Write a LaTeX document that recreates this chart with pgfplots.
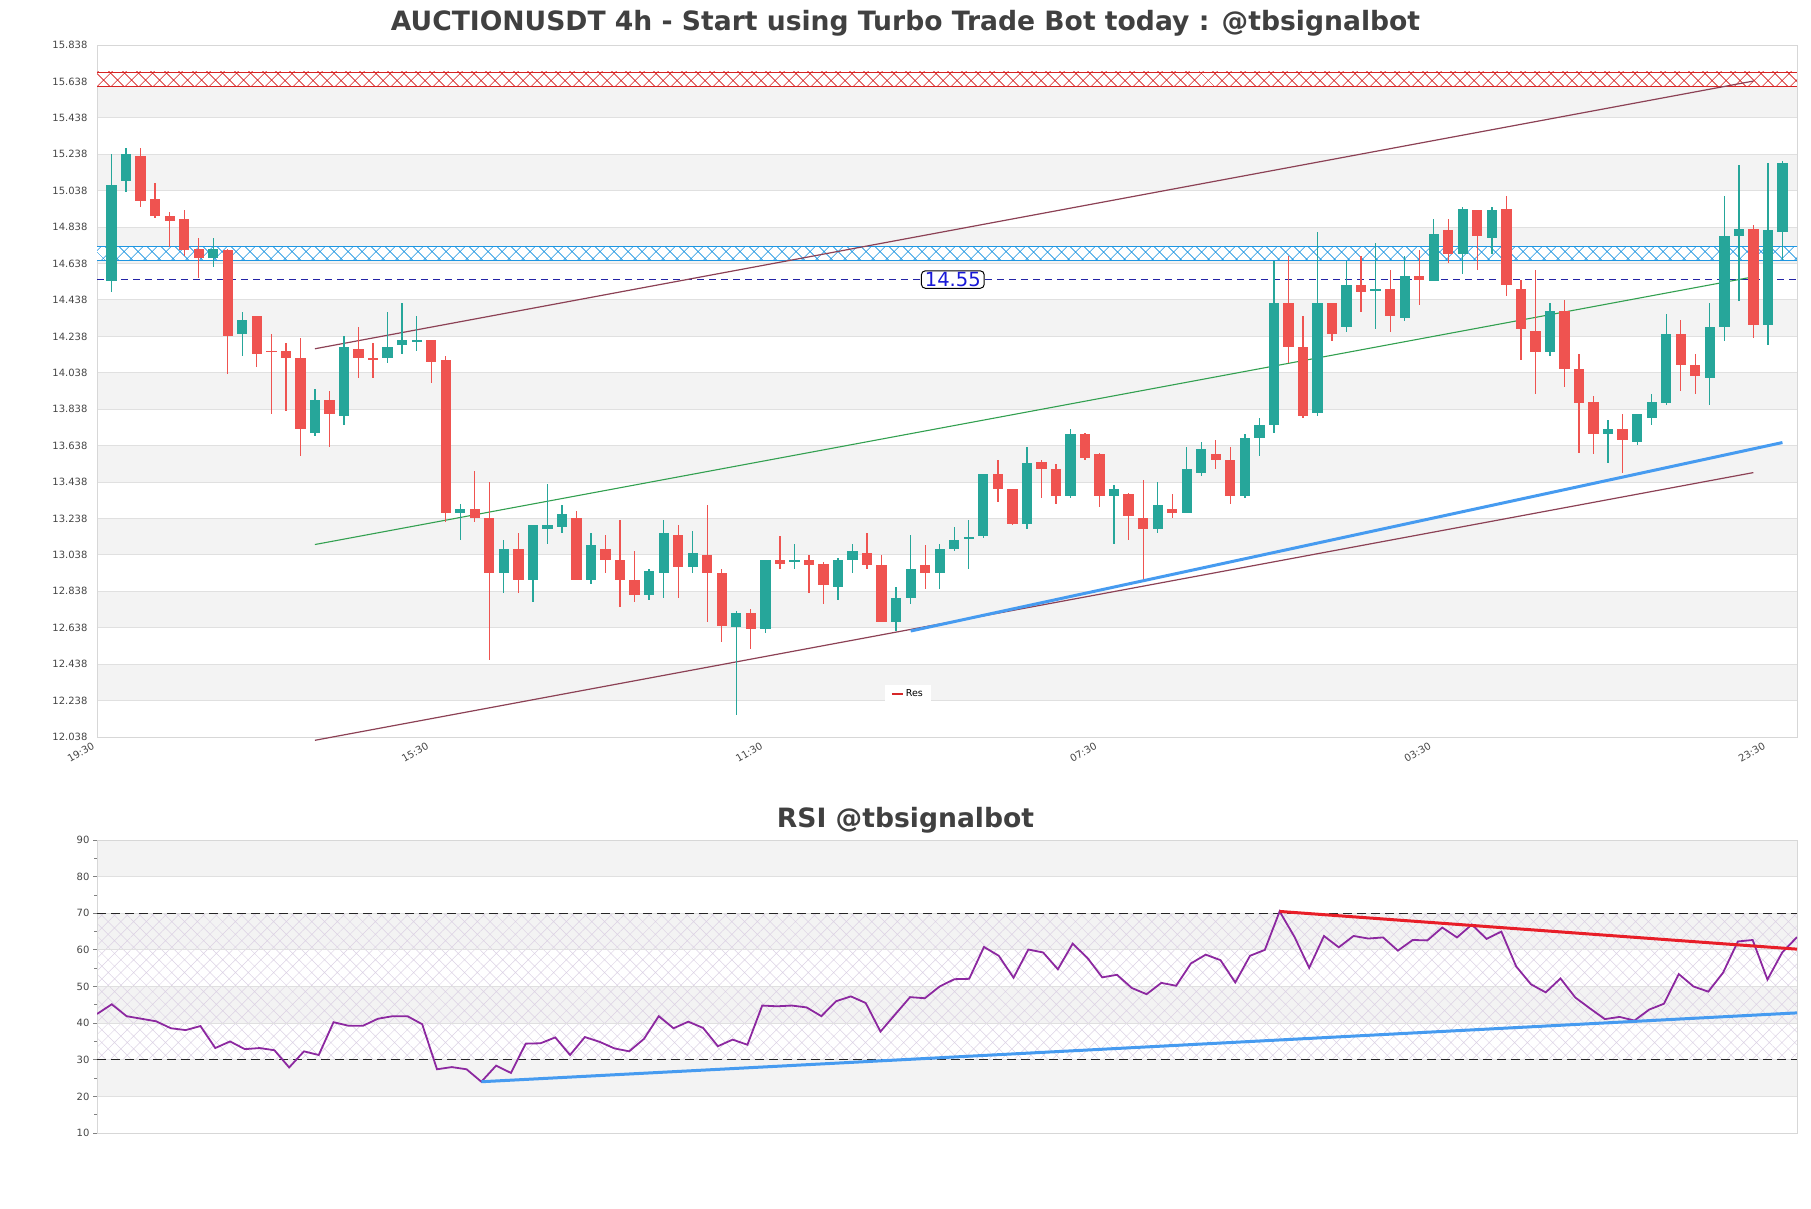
\documentclass[border=0pt]{standalone}
\usepackage{fontspec}
\setmainfont{DejaVu Sans}
\usepackage{pgfplots}
\usepackage{pgfplotstable}
\pgfplotsset{compat=1.18}
\usetikzlibrary{patterns.meta}

\definecolor{upc}{RGB}{38,166,154}
\definecolor{dnc}{RGB}{239,83,80}
\definecolor{bandgray}{RGB}{243,243,243}
\definecolor{gridgray}{RGB}{224,224,224}
\definecolor{axgray}{RGB}{215,215,215}
\definecolor{ticktext}{RGB}{70,70,70}
\definecolor{titletext}{RGB}{64,64,64}
\definecolor{zonered}{RGB}{215,35,35}
\definecolor{zoneblue}{RGB}{30,150,225}
\definecolor{chanmaroon}{RGB}{140,65,85}
\definecolor{midgreen}{RGB}{50,160,80}
\definecolor{supblue}{RGB}{70,155,240}
\definecolor{navyline}{RGB}{35,35,165}
\definecolor{labelblue}{RGB}{25,25,215}
\definecolor{rsipurple}{RGB}{140,40,160}
\definecolor{rsired}{RGB}{232,30,40}
\definecolor{hatchviolet}{RGB}{220,210,228}
\definecolor{legred}{RGB}{214,39,40}

% candles: index, open, high, low, close
\pgfplotstableread{
x o h l c
0 14.54 15.24 14.48 15.07
1 15.09 15.27 15.03 15.24
7 14.67 14.78 14.62 14.72
9 14.25 14.37 14.13 14.33
14 13.71 13.95 13.69 13.89
16 13.80 14.24 13.75 14.18
19 14.12 14.37 14.09 14.18
20 14.19 14.42 14.14 14.22
21 14.21 14.35 14.16 14.22
24 13.27 13.32 13.12 13.29
27 12.94 13.12 12.83 13.07
29 12.90 13.20 12.78 13.20
30 13.18 13.43 13.10 13.20
31 13.19 13.31 13.16 13.26
33 12.90 13.16 12.88 13.09
37 12.82 12.96 12.79 12.95
38 12.94 13.23 12.80 13.16
40 12.97 13.17 12.94 13.05
43 12.64 12.73 12.16 12.72
45 12.63 13.01 12.61 13.01
47 13.00 13.10 12.96 13.01
50 12.86 13.02 12.79 13.01
51 13.01 13.10 12.94 13.06
54 12.67 12.86 12.62 12.80
55 12.80 13.15 12.77 12.96
57 12.94 13.10 12.85 13.07
58 13.07 13.19 13.06 13.12
59 13.125 13.23 12.96 13.135
60 13.14 13.48 13.13 13.48
63 13.21 13.63 13.18 13.54
66 13.36 13.73 13.35 13.70
69 13.36 13.42 13.10 13.40
72 13.18 13.44 13.16 13.31
74 13.27 13.63 13.27 13.51
75 13.49 13.66 13.47 13.62
78 13.36 13.70 13.35 13.68
79 13.68 13.79 13.58 13.75
80 13.75 14.65 13.71 14.42
83 13.82 14.81 13.80 14.42
85 14.29 14.65 14.26 14.52
87 14.49 14.75 14.28 14.50
89 14.34 14.68 14.32 14.57
91 14.54 14.88 14.54 14.80
93 14.69 14.95 14.58 14.94
95 14.78 14.95 14.69 14.93
99 14.15 14.42 14.13 14.38
103 13.70 13.78 13.54 13.73
105 13.66 13.81 13.64 13.81
106 13.79 13.92 13.75 13.88
107 13.87 14.36 13.86 14.25
110 14.01 14.42 13.86 14.29
111 14.29 15.01 14.21 14.79
112 14.79 15.18 14.43 14.83
114 14.30 15.19 14.19 14.82
115 14.81 15.20 14.66 15.19
}\upcandles

\pgfplotstableread{
x o h l c
2 15.23 15.27 14.95 14.98
3 14.99 15.08 14.89 14.90
4 14.90 14.92 14.73 14.87
5 14.88 14.93 14.68 14.71
6 14.72 14.78 14.56 14.67
8 14.71 14.72 14.03 14.24
10 14.35 14.35 14.07 14.14
11 14.16 14.25 13.81 14.15
12 14.16 14.20 13.83 14.12
13 14.12 14.23 13.58 13.73
15 13.89 13.94 13.63 13.81
17 14.17 14.29 14.01 14.12
18 14.12 14.20 14.01 14.11
22 14.22 14.22 13.98 14.10
23 14.11 14.13 13.22 13.27
25 13.29 13.50 13.22 13.24
26 13.24 13.44 12.46 12.94
28 13.07 13.16 12.83 12.90
32 13.24 13.28 12.90 12.90
34 13.07 13.15 12.94 13.01
35 13.01 13.23 12.75 12.90
36 12.90 13.06 12.78 12.82
39 13.15 13.20 12.80 12.97
41 13.04 13.31 12.67 12.94
42 12.94 12.96 12.56 12.65
44 12.72 12.74 12.52 12.63
46 13.01 13.14 12.96 12.99
48 13.01 13.04 12.83 12.98
49 12.99 13.00 12.77 12.87
52 13.05 13.16 12.96 12.98
53 12.98 13.04 12.67 12.67
56 12.98 13.09 12.85 12.94
61 13.48 13.56 13.33 13.40
62 13.40 13.40 13.20 13.21
64 13.55 13.56 13.35 13.51
65 13.51 13.54 13.32 13.36
67 13.70 13.71 13.56 13.57
68 13.59 13.60 13.30 13.36
70 13.37 13.38 13.12 13.25
71 13.24 13.45 12.90 13.18
73 13.29 13.37 13.24 13.27
76 13.59 13.67 13.51 13.56
77 13.56 13.63 13.32 13.36
81 14.42 14.68 14.09 14.18
82 14.18 14.35 13.79 13.80
84 14.42 14.42 14.21 14.25
86 14.52 14.68 14.37 14.48
88 14.50 14.60 14.26 14.35
90 14.57 14.71 14.41 14.55
92 14.82 14.88 14.64 14.69
94 14.93 14.93 14.60 14.79
96 14.94 15.01 14.46 14.52
97 14.50 14.55 14.11 14.28
98 14.27 14.60 13.92 14.15
100 14.38 14.44 13.96 14.06
101 14.06 14.14 13.60 13.87
102 13.88 13.91 13.59 13.70
104 13.73 13.81 13.49 13.67
108 14.25 14.33 13.94 14.08
109 14.08 14.14 13.92 14.02
113 14.83 14.85 14.23 14.30
}\dncandles

\pgfplotstableread{
x v
0 42.5
1 45.15
2 41.9
3 41.2
4 40.5
5 38.6
6 38.1
7 39.2
8 33.2
9 35.0
10 32.9
11 33.2
12 32.6
13 27.9
14 32.3
15 31.3
16 40.25
17 39.3
18 39.3
19 41.2
20 41.9
21 41.9
22 39.7
23 27.4
24 28.0
25 27.4
26 24.0
27 28.4
28 26.4
29 34.4
30 34.5
31 36.1
32 31.3
33 36.2
34 34.9
35 33.1
36 32.3
37 35.7
38 41.9
39 38.6
40 40.4
41 38.7
42 33.7
43 35.5
44 34.1
45 44.8
46 44.6
47 44.8
48 44.3
49 41.9
50 46.0
51 47.3
52 45.5
53 37.7
54 42.4
55 47.1
56 46.8
57 50.0
58 52.0
59 52.1
60 60.8
61 58.4
62 52.4
63 60.1
64 59.3
65 54.7
66 61.7
67 57.8
68 52.5
69 53.2
70 49.6
71 47.9
72 51.0
73 50.2
74 56.3
75 58.7
76 57.2
77 51.1
78 58.4
79 60.0
80 70.5
81 63.6
82 55.1
83 63.8
84 60.7
85 63.8
86 63.1
87 63.4
88 59.8
89 62.7
90 62.6
91 66.1
92 63.4
93 66.9
94 63.0
95 65.0
96 55.5
97 50.6
98 48.4
99 52.2
100 47.0
101 44.0
102 41.1
103 41.7
104 40.7
105 43.7
106 45.3
107 53.4
108 50.0
109 48.6
110 53.8
111 62.3
112 62.7
113 51.9
114 59.3
115 63.5
}\rsidata

\pgfplotsset{
  band/.style={draw=none, fill=bandgray, on layer=axis background, forget plot},
  wick/.style 2 args={draw=none, no markers, forget plot,
    error bars/.cd, y dir=both, y explicit, error mark=none,
    error bar style={draw=#1, line width=#2}},
}

\begin{document}
\begin{tikzpicture}
\path (0pt,0pt) rectangle (1811pt,-1208pt);

% ---------------- main price chart ----------------
\begin{axis}[
  set layers,
  at={(97pt,-45pt)}, anchor=north west,
  width=1700pt, height=692pt, scale only axis,
  xmin=-1, xmax=116, ymin=12.038, ymax=15.838,
  clip=false,
  axis line style={axgray, line width=1pt},
  ymajorgrids, grid style={gridgray, line width=1pt},
  ytick={12.038,12.238,12.438,12.638,12.838,13.038,13.238,13.438,13.638,13.838,14.038,14.238,14.438,14.638,14.838,15.038,15.238,15.438,15.638,15.838},
  yticklabels={12.038,12.238,12.438,12.638,12.838,13.038,13.238,13.438,13.638,13.838,14.038,14.238,14.438,14.638,14.838,15.038,15.238,15.438,15.638,15.838},
  xtick={-1,22,45,68,91,114},
  xticklabels={19:30,15:30,11:30,07:30,03:30,23:30},
  major tick length=0pt,
  yticklabel style={font=\fontsize{10}{12}\selectfont, text=ticktext, xshift=-6pt},
  xticklabel style={font=\fontsize{10}{12}\selectfont, text=ticktext, rotate=30, anchor=north east, inner sep=1pt, xshift=-6pt},
  title={\bfseries AUCTIONUSDT 4h - Start using Turbo Trade Bot today : @tbsignalbot},
  title style={at={(0.4756,1)}, anchor=center, yshift=16pt, font=\fontsize{26.6}{30}\selectfont, text=titletext},
  legend style={at={(0.477,0.062)}, anchor=center, draw=none, fill=white,
    font=\fontsize{9.5}{11}\selectfont, inner xsep=6pt, inner ysep=3pt},
  legend image code/.code={\draw[#1] (0pt,0pt) -- (11pt,0pt);},
]
\addlegendimage{legred, line width=1.8pt}
\addlegendentry{Res}

% background bands
\addplot[band] coordinates {(-1,15.438) (116,15.438) (116,15.638) (-1,15.638)};
\addplot[band] coordinates {(-1,15.038) (116,15.038) (116,15.238) (-1,15.238)};
\addplot[band] coordinates {(-1,14.638) (116,14.638) (116,14.838) (-1,14.838)};
\addplot[band] coordinates {(-1,14.238) (116,14.238) (116,14.438) (-1,14.438)};
\addplot[band] coordinates {(-1,13.838) (116,13.838) (116,14.038) (-1,14.038)};
\addplot[band] coordinates {(-1,13.438) (116,13.438) (116,13.638) (-1,13.638)};
\addplot[band] coordinates {(-1,13.038) (116,13.038) (116,13.238) (-1,13.238)};
\addplot[band] coordinates {(-1,12.638) (116,12.638) (116,12.838) (-1,12.838)};
\addplot[band] coordinates {(-1,12.238) (116,12.238) (116,12.438) (-1,12.438)};

% red zone
\addplot[draw=none, fill=white, forget plot] coordinates {(-1,15.61) (116,15.61) (116,15.69) (-1,15.69)};
\addplot[draw=none, pattern={Hatch[angle=45,distance=10.5pt,line width=0.8pt]}, pattern color=zonered, forget plot] coordinates {(-1,15.61) (116,15.61) (116,15.69) (-1,15.69)};
\addplot[zonered, line width=0.8pt, forget plot] coordinates {(-1,15.61) (116,15.61)};
\addplot[zonered, line width=0.8pt, forget plot] coordinates {(-1,15.69) (116,15.69)};

% blue zone
\addplot[draw=none, fill=white, forget plot] coordinates {(-1,14.653) (116,14.653) (116,14.733) (-1,14.733)};
\addplot[draw=none, pattern={Hatch[angle=45,distance=10.5pt,line width=0.8pt]}, pattern color=zoneblue, forget plot] coordinates {(-1,14.653) (116,14.653) (116,14.733) (-1,14.733)};
\addplot[zoneblue, line width=0.8pt, forget plot] coordinates {(-1,14.653) (116,14.653)};
\addplot[zoneblue, line width=0.8pt, forget plot] coordinates {(-1,14.733) (116,14.733)};

% 14.55 dashed level
\addplot[navyline, line width=1.3pt, dash pattern=on 7pt off 5pt, forget plot] coordinates {(-1,14.55) (116,14.55)};

% channel lines
\addplot[chanmaroon, line width=1.2pt, forget plot] coordinates {(14,14.17) (113,15.64)};
\addplot[chanmaroon, line width=1.2pt, forget plot] coordinates {(14,12.02) (113,13.49)};
\addplot[midgreen, line width=1.1pt, forget plot] coordinates {(14,13.095) (113,14.565)};

% candles: wicks
\addplot[wick={upc}{1.3pt}] table[x=x, y expr={(\thisrow{h}+\thisrow{l})/2}, y error expr={(\thisrow{h}-\thisrow{l})/2}] {\upcandles};
\addplot[wick={dnc}{1.3pt}] table[x=x, y expr={(\thisrow{h}+\thisrow{l})/2}, y error expr={(\thisrow{h}-\thisrow{l})/2}] {\dncandles};
% candles: bodies
\addplot[wick={upc}{10.3pt}] table[x=x, y expr={(\thisrow{o}+\thisrow{c})/2}, y error expr={max(abs(\thisrow{c}-\thisrow{o})/2,0.005)}] {\upcandles};
\addplot[wick={dnc}{10.3pt}] table[x=x, y expr={(\thisrow{o}+\thisrow{c})/2}, y error expr={max(abs(\thisrow{c}-\thisrow{o})/2,0.005)}] {\dncandles};

% support line
\addplot[supblue, line width=3pt, forget plot] coordinates {(55,12.62) (115,13.655)};

\node[draw=black, fill=white, rounded corners=4pt, text=labelblue, line width=1pt,
  font=\fontsize{19.5}{21}\selectfont, inner xsep=3.5pt, inner ysep=1.5pt] at (axis cs:57.9,14.55) {14.55};
\end{axis}

% ---------------- RSI chart ----------------
\begin{axis}[
  set layers,
  at={(97pt,-840pt)}, anchor=north west,
  width=1700pt, height=293pt, scale only axis,
  xmin=0, xmax=115, ymin=10, ymax=90,
  axis line style={axgray, line width=1pt},
  ymajorgrids, grid style={gridgray, line width=1pt},
  ytick={10,20,30,40,50,60,70,80,90},
  yticklabels={10,20,30,40,50,60,70,80,90},
  minor y tick num=1,
  xtick=\empty, ytick pos=left, tick align=outside,
  major tick length=4pt, minor tick length=3pt,
  tick style={color=gray, line width=0.8pt},
  yticklabel style={font=\fontsize{10}{12}\selectfont, text=ticktext},
  title={\bfseries RSI @tbsignalbot},
  title style={at={(0.4756,1)}, anchor=center, yshift=14pt, font=\fontsize{26.6}{30}\selectfont, text=titletext},
]
\addplot[band] coordinates {(0,80) (115,80) (115,90) (0,90)};
\addplot[band] coordinates {(0,60) (115,60) (115,70) (0,70)};
\addplot[band] coordinates {(0,40) (115,40) (115,50) (0,50)};
\addplot[band] coordinates {(0,20) (115,20) (115,30) (0,30)};
\addplot[draw=none, pattern={Hatch[angle=45,distance=9pt,line width=0.5pt]}, pattern color=hatchviolet, on layer=axis background, forget plot] coordinates {(0,30) (115,30) (115,70) (0,70)};

\addplot[black!85, line width=1.3pt, dash pattern=on 9pt off 5pt, forget plot] coordinates {(0,70) (115,70)};
\addplot[black!85, line width=1.3pt, dash pattern=on 9pt off 5pt, forget plot] coordinates {(0,30) (115,30)};

\addplot[rsipurple, line width=1.8pt, forget plot] table[x=x, y=v] {\rsidata};

\addplot[rsired, line width=3pt, forget plot] coordinates {(80,70.5) (115,60.2)};
\addplot[supblue, line width=3pt, forget plot] coordinates {(26,24.0) (115,42.8)};
\end{axis}
\end{tikzpicture}
\end{document}
